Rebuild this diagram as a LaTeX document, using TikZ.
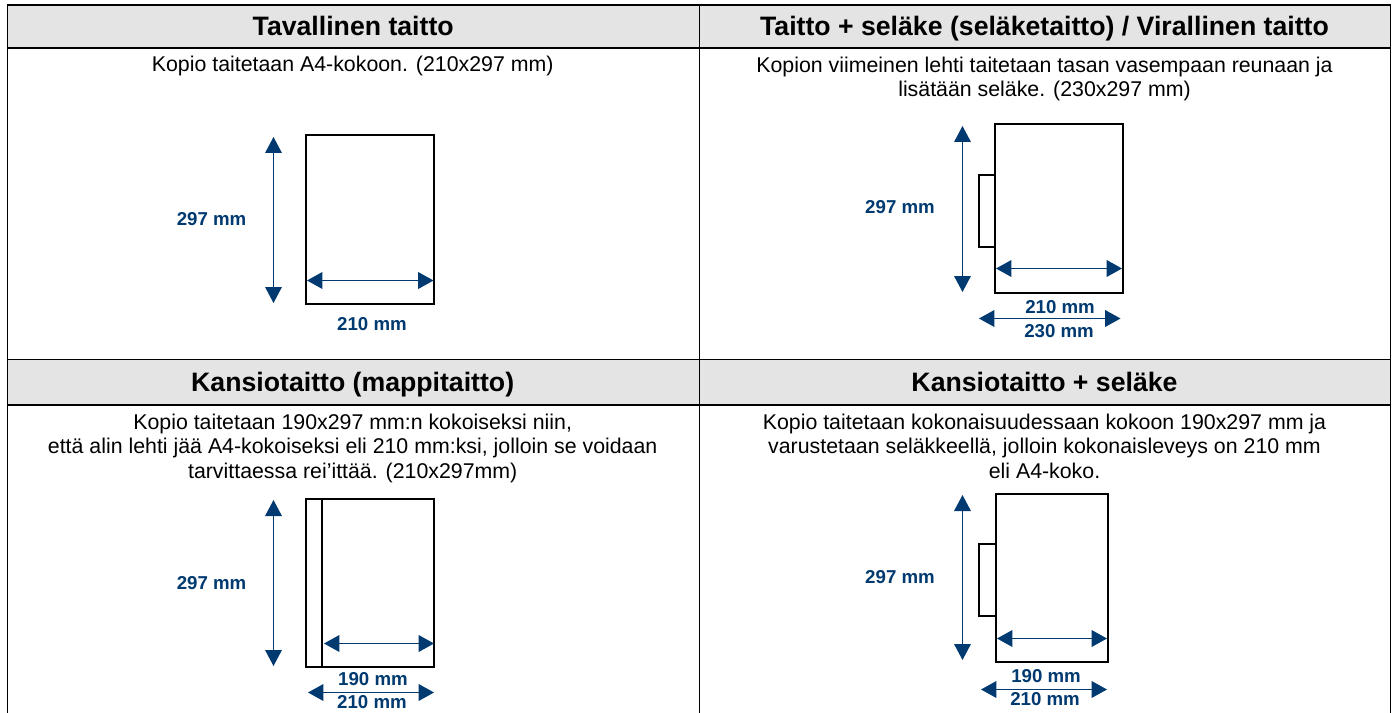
\documentclass[tikz,border=0pt]{standalone}
\usepackage{fontspec}
\setmainfont{Liberation Sans}
\usetikzlibrary{arrows.meta}
\definecolor{dimblue}{HTML}{003A70}
\definecolor{headgrey}{HTML}{E4E4E4}
\tikzset{
  x=0.75pt,y=-0.75pt,
  gridline/.style={black,line width=1.5pt},
  thingrid/.style={black,line width=1.0pt},
  sheet/.style={black,line width=1.5pt},
  dimv/.style={dimblue,line width=0.9pt,{Triangle[length=12pt,width=12.5pt]}-{Triangle[length=12pt,width=12.5pt]}},
  dimh/.style={dimblue,line width=0.9pt,{Triangle[length=11.5pt,width=12.5pt]}-{Triangle[length=11.5pt,width=12.5pt]}},
  headtext/.style={font=\fontsize{20pt}{24pt}\selectfont\bfseries,text=black,inner sep=0pt,anchor=base},
  bodytext/.style={font=\fontsize{16pt}{18.45pt}\selectfont,text=black,align=center,inner sep=0pt,anchor=base},
  dimtext/.style={font=\fontsize{14pt}{16pt}\selectfont\bfseries,text=dimblue,inner sep=0pt,anchor=base},
}
\begin{document}
\begin{tikzpicture}
\useasboundingbox[fill=white] (0,0) rectangle (1395,713);
% header bands
\fill[headgrey] (7,5) rectangle (1390.5,48);
\fill[headgrey] (7,360) rectangle (1390.5,405);
% grid
\draw[gridline] (7,5) -- (1391.2,5);
\draw[gridline] (7,48) -- (1391,48);
\draw[thingrid] (7,359.5) -- (1391,359.5);
\draw[gridline] (7,405) -- (1391,405);
\draw[thingrid] (7.5,4) -- (7.5,713);
\draw[thingrid] (699.5,4) -- (699.5,713);
\draw[thingrid] (1390.5,4) -- (1390.5,713);
% headers
\node[headtext] (h1) at (353.2,35.7) {Tavallinen taitto};
\node[headtext] (h2) at (1044.5,35.7) {Taitto + seläke (seläketaitto) / Virallinen taitto};
\node[headtext] (h3) at (352.7,391.7) {Kansiotaitto (mappitaitto)};
\node[headtext] (h4) at (1044.5,391.7) {Kansiotaitto + seläke};
% descriptions
\node[bodytext] (t1) at (352.7,72) {Kopio taitetaan A4-kokoon. (210x297 mm)};
\node[bodytext] (t2) at (1044.5,96.7) {Kopion viimeinen lehti taitetaan tasan vasempaan reunaan ja\\lisätään seläke. (230x297 mm)};
\node[bodytext] (t3) at (352.7,478.5) {Kopio taitetaan 190x297 mm:n kokoiseksi niin,\\että alin lehti jää A4-kokoiseksi eli 210 mm:ksi, jolloin se voidaan\\tarvittaessa rei’ittää. (210x297mm)};
\node[bodytext] (t4) at (1044.5,478.5) {Kopio taitetaan kokonaisuudessaan kokoon 190x297 mm ja\\varustetaan seläkkeellä, jolloin kokonaisleveys on 210 mm\\eli A4-koko.};
% panel 1
\draw[sheet] (306,135.5) rectangle (434,304);
\coordinate (a1t) at (273.5,137); \coordinate (a1b) at (273.5,303);
\coordinate (b1l) at (307,280.5); \coordinate (b1r) at (433.5,280.5);
\draw[dimv] (a1t) -- (a1b);
\draw[dimh] (b1l) -- (b1r);
\node[dimtext] (l1v) at (211.6,225.3) {297 mm};
\node[dimtext] (l1h) at (372,330) {210 mm};
% panel 2
\draw[sheet] (995,124.5) rectangle (1123,293);
\draw[sheet] (995,175) -- (979,175) -- (979,247) -- (995,247);
\coordinate (a2t) at (962.5,126); \coordinate (a2b) at (962.5,292);
\coordinate (b2l) at (996,268.5); \coordinate (b2r) at (1122,268.5);
\coordinate (c2l) at (979,318.5); \coordinate (c2r) at (1120.5,318.5);
\draw[dimv] (a2t) -- (a2b);
\draw[dimh] (b2l) -- (b2r);
\draw[dimh] (c2l) -- (c2r);
\node[dimtext] (l2v) at (900,214) {297 mm};
\node[dimtext] (l2a) at (1060,313.3) {210 mm};
\node[dimtext] (l2b) at (1059,337.3) {230 mm};
% panel 3
\draw[sheet] (306,499) rectangle (434,667);
\draw[sheet] (322,498) -- (322,667);
\coordinate (a3t) at (273.5,500); \coordinate (a3b) at (273.5,666);
\coordinate (b3l) at (324,643.5); \coordinate (b3r) at (434,643.5);
\coordinate (c3l) at (308,692.5); \coordinate (c3r) at (434,692.5);
\draw[dimv] (a3t) -- (a3b);
\draw[dimh] (b3l) -- (b3r);
\draw[dimh] (c3l) -- (c3r);
\node[dimtext] (l3v) at (211.6,589.3) {297 mm};
\node[dimtext] (l3a) at (373,685) {190 mm};
\node[dimtext] (l3b) at (372,708.3) {210 mm};
% panel 4
\draw[sheet] (996,494) rectangle (1108,662);
\draw[sheet] (996,543.5) -- (979,543.5) -- (979,616) -- (996,616);
\coordinate (a4t) at (962.5,495); \coordinate (a4b) at (962.5,660);
\coordinate (b4l) at (997,638.5); \coordinate (b4r) at (1107,638.5);
\coordinate (c4l) at (981,689.5); \coordinate (c4r) at (1107,689.5);
\draw[dimv] (a4t) -- (a4b);
\draw[dimh] (b4l) -- (b4r);
\draw[dimh] (c4l) -- (c4r);
\node[dimtext] (l4v) at (900,583.3) {297 mm};
\node[dimtext] (l4a) at (1046,682.3) {190 mm};
\node[dimtext] (l4b) at (1045,705.7) {210 mm};
\end{tikzpicture}
\end{document}
